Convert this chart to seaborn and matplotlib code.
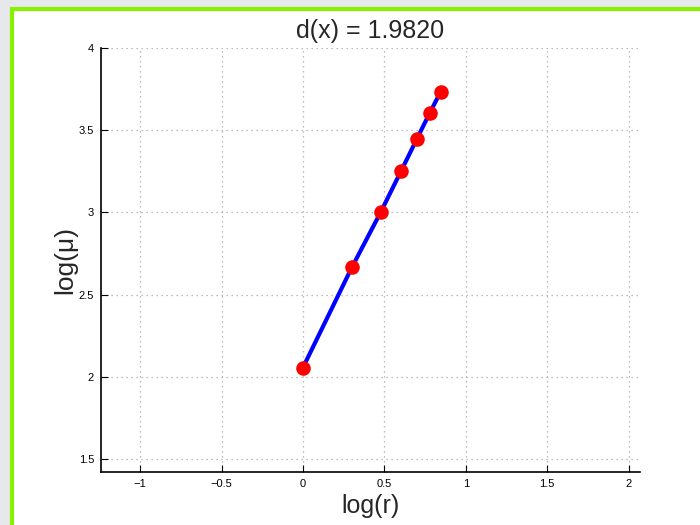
import numpy as np
import pandas as pd
import seaborn as sns
import matplotlib.pyplot as plt
from matplotlib.patches import Rectangle

# log(r) for r = 1..7 and measured log(mu)
log_r = [0.0, 0.3010, 0.4771, 0.6021, 0.6990, 0.7782, 0.8451]
log_mu = [2.055, 2.666, 3.000, 3.250, 3.445, 3.604, 3.732]
dim_label = "d(x) = 1.9820"
x_ticks = [-1, -0.5, 0, 0.5, 1, 1.5, 2]
y_ticks = [1.5, 2, 2.5, 3, 3.5, 4]

df = pd.DataFrame({"log_r": log_r, "log_mu": log_mu})

sns.set_style("white")
plt.rcParams['font.family'] = ['Liberation Sans', 'DejaVu Sans']

fig = plt.figure(figsize=(7, 5.25), dpi=100)
fig.patches.append(Rectangle((0, 0), 1, 1, transform=fig.transFigure,
                             facecolor='#e6e8ec', edgecolor='none', zorder=-2))
fig.patches.append(Rectangle((11.5 / 700, -0.05), 1.0, (525 - 8.5) / 525 + 0.05,
                             transform=fig.transFigure, facecolor='white',
                             edgecolor='#88f000', linewidth=3, zorder=-1))

ax = fig.add_axes([101 / 700, 53 / 525, 539 / 700, 424 / 525])
ax.set_facecolor('white')

sns.lineplot(data=df, x="log_r", y="log_mu", ax=ax, color='blue', linewidth=3, zorder=2)
sns.scatterplot(data=df, x="log_r", y="log_mu", ax=ax, color='red', s=110,
                edgecolor='red', linewidth=0, zorder=3)

ax.set_xlim(-1.24, 2.07)
ax.set_ylim(1.42, 4.0)
ax.set_xticks(x_ticks)
ax.set_xticklabels(['\u22121', '\u22120.5', '0', '0.5', '1', '1.5', '2'])
ax.set_yticks(y_ticks)
ax.set_yticklabels(['1.5', '2', '2.5', '3', '3.5', '4'])
ax.grid(True, linestyle=(0, (1, 3)), color='#a8a8a8', linewidth=0.9)
ax.tick_params(direction='in', length=5, width=0.8, labelsize=8, colors='black',
               left=True, bottom=True, pad=5)
for side in ['top', 'right']:
    ax.spines[side].set_visible(False)
for side in ['left', 'bottom']:
    ax.spines[side].set_color('black')
    ax.spines[side].set_linewidth(1.2)

ax.set_xlabel("log(r)", fontsize=18, labelpad=4)
ax.set_ylabel("log(\u03bc)", fontsize=19, labelpad=1)
ax.set_title(dim_label, fontsize=18, pad=7)

fig.savefig("out.png", dpi=100)
